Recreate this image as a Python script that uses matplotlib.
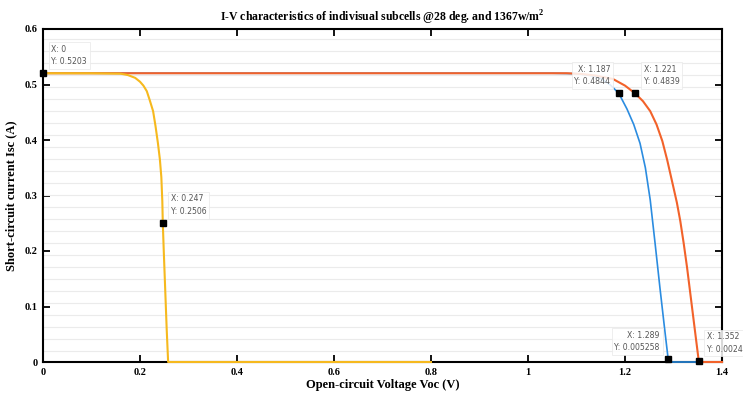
import matplotlib
matplotlib.use("Agg")
import matplotlib.pyplot as plt
import numpy as np

# ---- data ----
yellow_v = [0.0, 0.10, 0.16, 0.175, 0.19, 0.20, 0.207, 0.214, 0.22, 0.227, 0.232, 0.237, 0.241,
            0.244, 0.246, 0.247, 0.249, 0.252, 0.255, 0.258, 0.80]
yellow_i = [0.5203, 0.5202, 0.5195, 0.517, 0.512, 0.505, 0.498, 0.488, 0.472, 0.452, 0.425, 0.394, 0.365,
            0.333, 0.29, 0.2506, 0.20, 0.13, 0.06, 0.0, 0.0]

blue_v = [0.0, 1.05, 1.10, 1.13, 1.15, 1.17, 1.187, 1.204, 1.218, 1.231, 1.242, 1.252, 1.262, 1.272,
          1.281, 1.289, 1.290, 1.352]
blue_i = [0.5203, 0.5203, 0.5195, 0.516, 0.511, 0.499, 0.4844, 0.456, 0.428, 0.394, 0.35, 0.292, 0.214, 0.134,
          0.065, 0.005258, 0.0, 0.0]

orange_v = [0.0, 1.08, 1.11, 1.14, 1.175, 1.20, 1.221, 1.237, 1.252, 1.265, 1.277, 1.287, 1.299, 1.307,
            1.314, 1.321, 1.328, 1.334, 1.340, 1.346, 1.352, 1.353, 1.40]
orange_i = [0.5203, 0.5203, 0.519, 0.516, 0.510, 0.498, 0.4839, 0.47, 0.452, 0.428, 0.398, 0.364, 0.318, 0.287,
            0.254, 0.214, 0.170, 0.128, 0.086, 0.044, 0.0024, 0.0, 0.0]

tips_x = [0.0, 0.247, 1.187, 1.221, 1.289, 1.352]
tips_y = [0.5203, 0.2506, 0.4844, 0.4839, 0.005258, 0.0024]
tips_label = ["X: 0\nY: 0.5203", "X: 0.247\nY: 0.2506", "X: 1.187\nY: 0.4844",
              "X: 1.221\nY: 0.4839", "X: 1.289\nY: 0.005258", "X: 1.352\nY: 0.0024"]
tips_side = ["right", "right", "left", "right", "left", "right"]

xticks = [0, 0.2, 0.4, 0.6, 0.8, 1, 1.2, 1.4]
xtick_labels = ["0", "0.2", "0.4", "0.6", "0.8", "1", "1.2", "1.4"]
yticks = [0, 0.1, 0.2, 0.3, 0.4, 0.5, 0.6]
ytick_labels = ["0", "0.1", "0.2", "0.3", "0.4", "0.5", "0.6"]

title = "I-V characteristics of indivisual subcells @28 deg. and 1367w/m$^\\mathbf{2}$"
xlabel = "Open-circuit Voltage Voc (V)"
ylabel = "Short-circuit current Isc (A)"

plt.rcParams['font.family'] = ['Liberation Serif', 'DejaVu Serif']
plt.rcParams['mathtext.fontset'] = 'custom'
plt.rcParams['mathtext.rm'] = 'Liberation Serif'
plt.rcParams['mathtext.bf'] = 'Liberation Serif:bold'

fig = plt.figure(figsize=(7.43, 3.99), dpi=100)
ax = fig.add_axes([43/743, 37/399, (722-43)/743, (362-29)/399])

# faint horizontal background lines
ax.set_yticks(np.arange(0.02, 0.6, 0.0216), minor=True)
ax.grid(True, which='minor', axis='y', color='#ebebeb', linewidth=0.8)
ax.tick_params(which='minor', length=0)

ax.plot(blue_v, blue_i, color='#2b8ce0', lw=1.2, zorder=3, clip_on=False)
ax.plot(orange_v, orange_i, color='#f2622a', lw=1.5, zorder=4, clip_on=False)
ax.plot(yellow_v, yellow_i, color='#f6b91e', lw=1.5, zorder=5, clip_on=False)

ax.plot(tips_x, tips_y, 's', color='black', ms=4.5, zorder=8, clip_on=False)

for x, y, lab, side in zip(tips_x, tips_y, tips_label, tips_side):
    if side == "right":
        ox, ha = 6, 'left'
    else:
        ox, ha = -6, 'right'
    ax.annotate(lab, (x, y), xytext=(ox, 5), textcoords='offset points',
                ha=ha, va='bottom', fontsize=5.6, family='DejaVu Sans', color='#555555',
                linespacing=1.5,
                bbox=dict(boxstyle='square,pad=0.35', fc='white', ec='#e8e8e8', lw=0.6, alpha=0.85),
                zorder=9)

ax.set_xlim(0, 1.4)
ax.set_ylim(0, 0.6)
ax.set_xticks(xticks)
ax.set_xticklabels(xtick_labels, fontweight='bold', fontsize=7.5)
ax.set_yticks(yticks)
ax.set_yticklabels(ytick_labels, fontweight='bold', fontsize=7.5)
ax.tick_params(which='major', direction='in', top=True, right=True, length=5, width=1.3, pad=4)
for s in ax.spines.values():
    s.set_linewidth(1.5)

ax.set_title(title, fontweight='bold', fontsize=8.5, pad=5)
ax.set_xlabel(xlabel, fontweight='bold', fontsize=9, labelpad=2)
ax.set_ylabel(ylabel, fontweight='bold', fontsize=9, labelpad=5)

fig.savefig("out.png", dpi=100)
